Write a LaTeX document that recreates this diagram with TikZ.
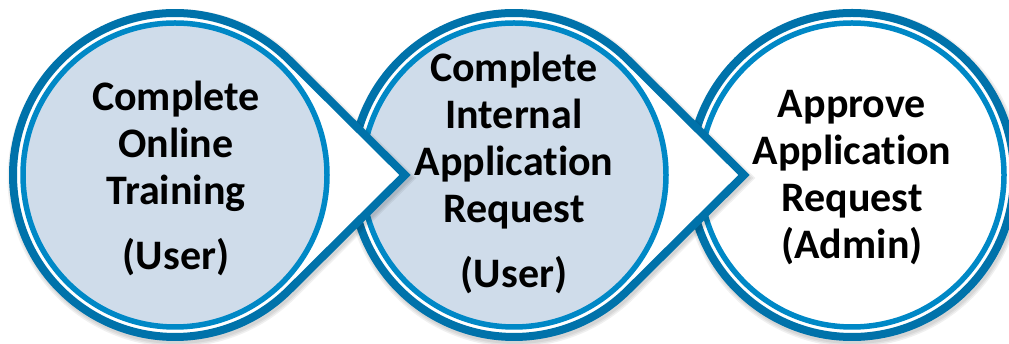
\documentclass[tikz,border=0pt]{standalone}
\usepackage{fontspec}
\setmainfont{Carlito}[Ligatures=NoCommon]
\usetikzlibrary{calc}
\definecolor{ringdark}{RGB}{0,114,170}
\definecolor{ringlight}{RGB}{0,136,198}
\definecolor{discfill}{RGB}{207,220,234}
\tikzset{
  outerring/.style={draw=ringdark, line width=8pt, fill=white, line join=miter},
  innerring/.style={draw=ringlight, line width=5.5pt},
  disctext/.style={font=\fontsize{42}{47}\selectfont\bfseries, align=center,
    text=black, inner sep=0pt},
  % soft shadow: a few faint, widening copies of the outline
  softshadow/.style={draw=black, fill=black, opacity=0.06, line join=miter},
  % circle with a pointer towards the next step
  pointer/.pic={
    \foreach \w in {8,11,14}
      \path[softshadow, line width=\w pt, shift={(1.5,-3)}]
        (230,0) -- (45.23:162) arc[start angle=45.23, end angle=314.77, radius=162] -- cycle;
    \path[outerring]
      (230,0) -- (45.23:162) arc[start angle=45.23, end angle=314.77, radius=162] -- cycle;
    \path[innerring, fill=discfill] (0,0) circle[radius=152];
  },
  % final step: plain double ring
  lastdisc/.pic={
    \foreach \w in {8,11,14}
      \path[softshadow, line width=\w pt, shift={(1.5,-3)}] (0,0) circle[radius=162];
    \path[outerring] (0,0) circle[radius=162];
    \path[innerring, fill=white] (0,0) circle[radius=152];
  }
}
\begin{document}
\begin{tikzpicture}[x=1pt,y=1pt]
  \useasboundingbox (0,0) rectangle (1009,344);
  % drawn right to left so each pointer lies over the next disc
  \pic (s3) at (852,169) {lastdisc};
  \pic (s2) at (514,169) {pointer};
  \pic (s1) at (175,169) {pointer};

  \node[disctext] (t1) at (176,166) {Complete\\Online\\Training\\[18pt](User)};
  \node[disctext] (t2) at (514,171) {Complete\\Internal\\Application\\Request\\[18pt](User)};
  \node[disctext] (t3) at (852,166) {Approve\\Application\\Request\\(Admin)};
\end{tikzpicture}
\end{document}
